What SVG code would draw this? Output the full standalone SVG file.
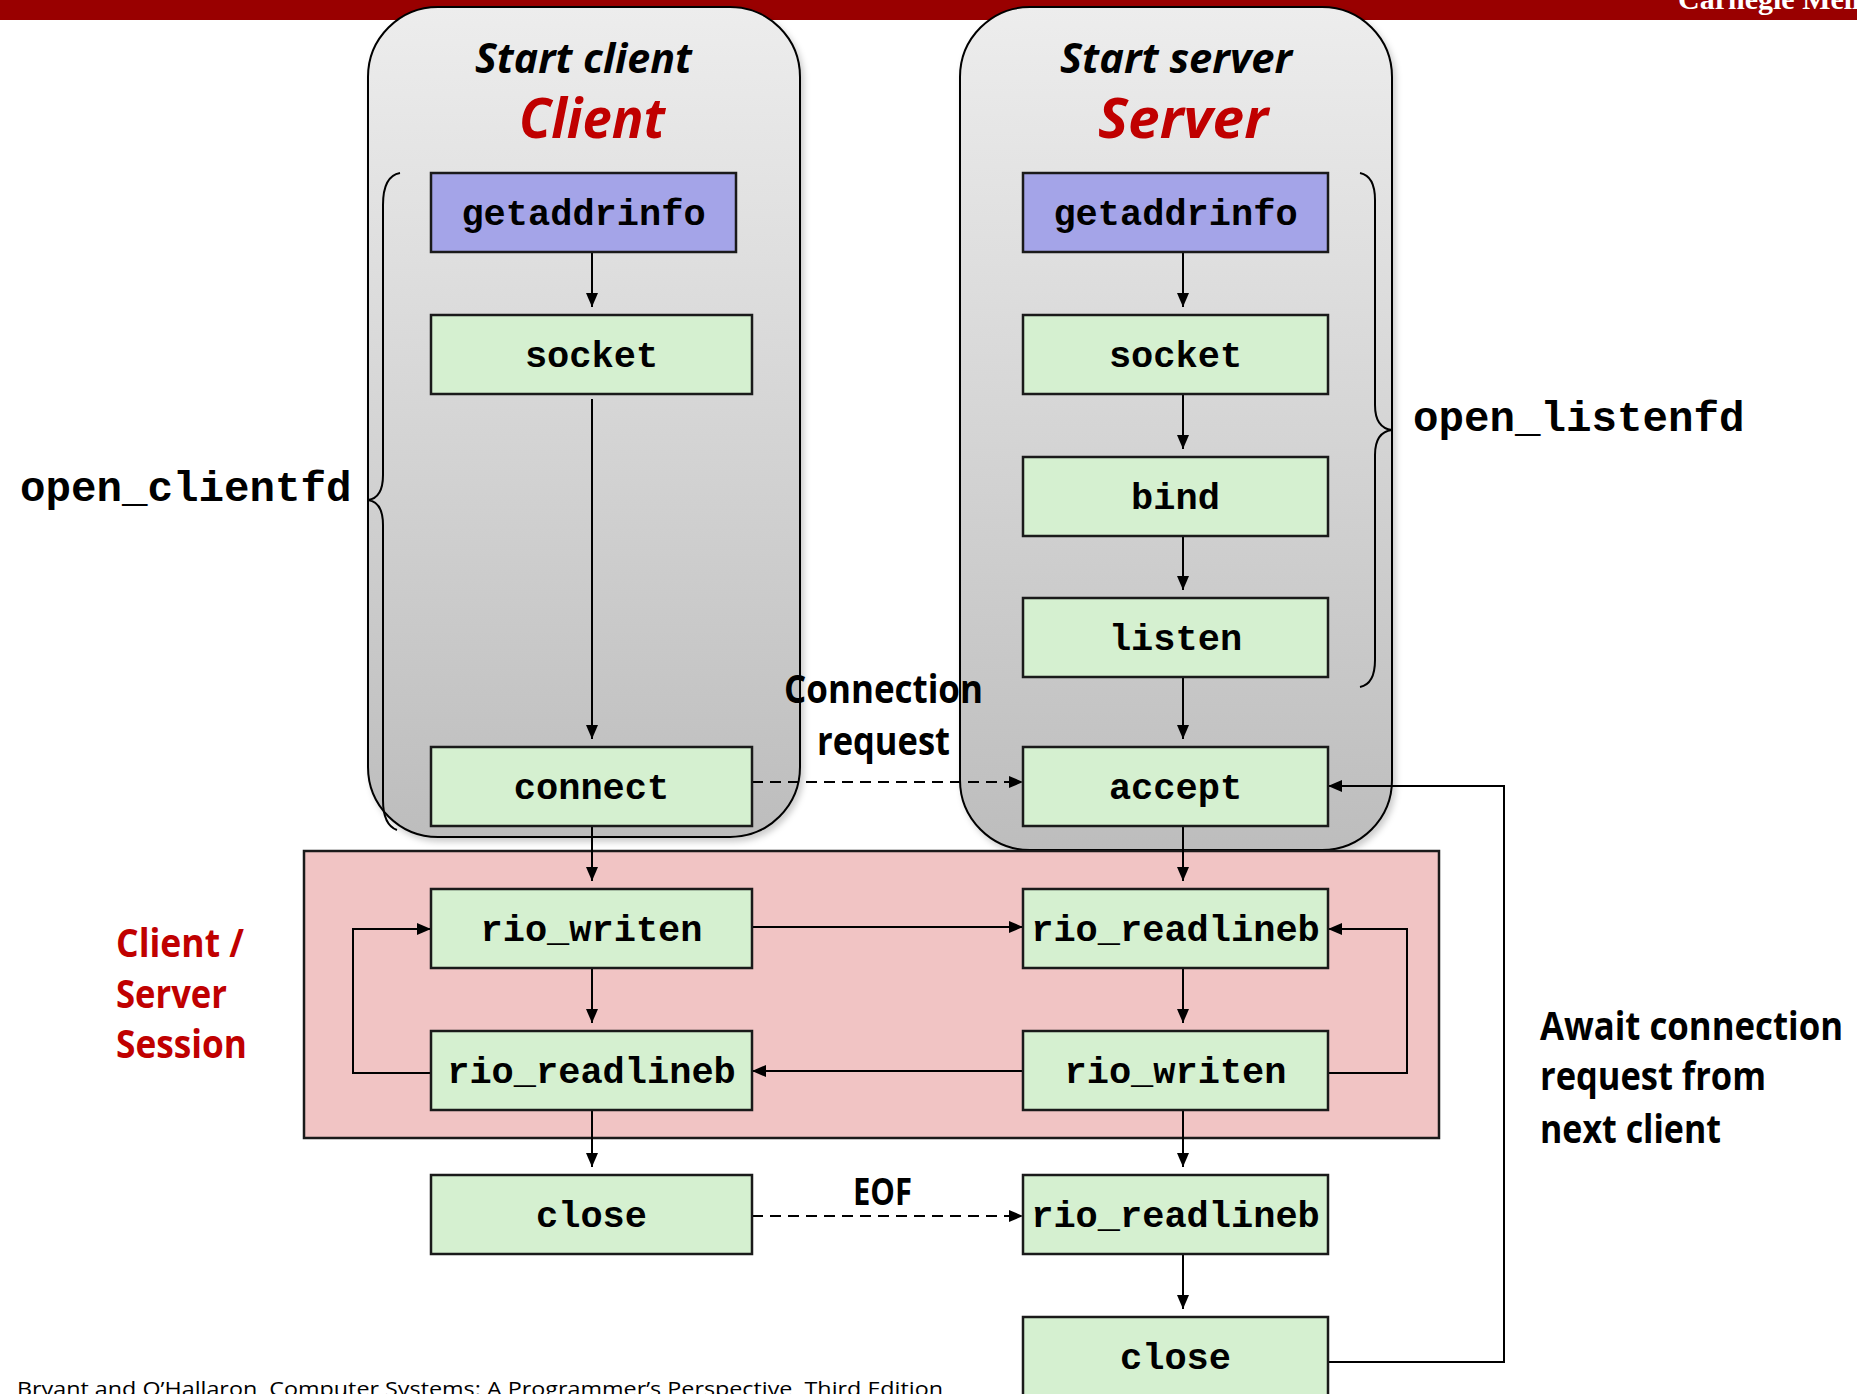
<svg xmlns="http://www.w3.org/2000/svg" width="1857" height="1394" viewBox="0 0 1857 1394">
<defs>
<linearGradient id="panelGrad" x1="0" y1="0" x2="0" y2="1">
<stop offset="0" stop-color="#ededed"/>
<stop offset="1" stop-color="#bdbdbd"/>
</linearGradient>
<filter id="shadow" x="-10%" y="-10%" width="120%" height="120%">
<feDropShadow dx="3" dy="4" stdDeviation="3" flood-color="#000" flood-opacity="0.2"/>
</filter>
<marker id="ah" viewBox="0 0 14 12" refX="14" refY="6" markerWidth="14" markerHeight="12" markerUnits="userSpaceOnUse" orient="auto">
<path d="M0,0 L14,6 L0,12 z" fill="#000"/>
</marker>
<style>
.panel{fill:url(#panelGrad);stroke:#000;stroke-width:2;filter:url(#shadow)}
.box{fill:#d5f0d0;stroke:#1a1a1a;stroke-width:2.5}
.blue{fill:#a4a4e8;stroke:#1a1a1a;stroke-width:2.5}
.mono{font-family:"Liberation Mono","Courier New",monospace;font-weight:bold;fill:#000}
.lbl{font-family:"Liberation Mono","Courier New",monospace;font-weight:bold;font-size:37px;text-anchor:middle;fill:#000}
.sans{font-family:"Open Sans","Noto Sans","Liberation Sans",sans-serif;font-weight:bold;fill:#000}
.red{fill:#c00000}
.title{font-style:italic}
.conn{fill:none;stroke:#000;stroke-width:2}
.arrow{marker-end:url(#ah)}
.dash{stroke-dasharray:11 7}
.brace{fill:none;stroke:#000;stroke-width:2}
</style>
</defs>
<rect id="topbar" x="0" y="0" width="1857" height="20" fill="#990000"/>
<text x="1678" y="9" font-family="Liberation Serif,'Times New Roman',serif" font-weight="bold" font-size="30" fill="#ffffff">Carnegie Mellon</text>

<g id="client-panel">
<rect class="panel" x="368" y="7" width="432" height="830" rx="70" ry="70"/>
<text class="sans title" x="475" y="73" font-size="41" textLength="217" lengthAdjust="spacingAndGlyphs">Start client</text>
<text class="sans title red" x="519" y="138" font-size="56" textLength="146" lengthAdjust="spacingAndGlyphs">Client</text>
</g>
<g id="server-panel">
<rect class="panel" x="960" y="7" width="432" height="843" rx="70" ry="70"/>
<text class="sans title" x="1060" y="73" font-size="41" textLength="232" lengthAdjust="spacingAndGlyphs">Start server</text>
<text class="sans title red" x="1098" y="138" font-size="56" textLength="170" lengthAdjust="spacingAndGlyphs">Server</text>
</g>

<g id="session">
<rect x="304" y="851" width="1135" height="287" fill="#f1c4c4" stroke="#1a1a1a" stroke-width="2.5"/>
</g>

<g id="braces">
<path class="brace" d="M400,173 Q383,176 383,205 L383,475 Q383,498 368,500 Q383,502 383,525 L383,800 Q383,825 397,830"/>
<path class="brace" d="M1360,173 Q1375,176 1375,200 L1375,405 Q1375,428 1392,430 Q1375,432 1375,455 L1375,660 Q1375,684 1360,687"/>
</g>

<g id="connectors">
<path class="conn arrow" d="M592,253 V307"/>
<path class="conn arrow" d="M592,399 V739"/>
<path class="conn arrow" d="M592,826 V881"/>
<path class="conn arrow" d="M592,968 V1023"/>
<path class="conn arrow" d="M592,1110 V1167"/>
<path class="conn arrow" d="M1183,253 V307"/>
<path class="conn arrow" d="M1183,395 V449"/>
<path class="conn arrow" d="M1183,537 V590"/>
<path class="conn arrow" d="M1183,678 V739"/>
<path class="conn arrow" d="M1183,826 V881"/>
<path class="conn arrow" d="M1183,968 V1023"/>
<path class="conn arrow" d="M1183,1110 V1167"/>
<path class="conn arrow" d="M1183,1254 V1309"/>
<path class="conn arrow" d="M431,1073 H353 V929 H431"/>
<path class="conn arrow" d="M752,927 H1023"/>
<path class="conn arrow" d="M1023,1071 H752"/>
<path class="conn arrow" d="M1328,1073 H1407 V929 H1328"/>
<path class="conn arrow dash" d="M752,782 H1023"/>
<path class="conn arrow dash" d="M752,1216 H1023"/>
<path class="conn arrow" d="M1328,1362 H1504 V786 H1328"/>
</g>

<g id="c-getaddrinfo"><rect class="blue" x="431" y="173" width="305" height="79"/><text class="lbl" x="583.5" y="225">getaddrinfo</text></g>
<g id="c-socket"><rect class="box" x="431" y="315" width="321" height="79"/><text class="lbl" x="591.5" y="367">socket</text></g>
<g id="c-connect"><rect class="box" x="431" y="747" width="321" height="79"/><text class="lbl" x="591.5" y="799">connect</text></g>
<g id="c-rio-writen"><rect class="box" x="431" y="889" width="321" height="79"/><text class="lbl" x="591.5" y="941">rio_writen</text></g>
<g id="c-rio-readlineb"><rect class="box" x="431" y="1031" width="321" height="79"/><text class="lbl" x="591.5" y="1083">rio_readlineb</text></g>
<g id="c-close"><rect class="box" x="431" y="1175" width="321" height="79"/><text class="lbl" x="591.5" y="1227">close</text></g>

<g id="s-getaddrinfo"><rect class="blue" x="1023" y="173" width="305" height="79"/><text class="lbl" x="1175.5" y="225">getaddrinfo</text></g>
<g id="s-socket"><rect class="box" x="1023" y="315" width="305" height="79"/><text class="lbl" x="1175.5" y="367">socket</text></g>
<g id="s-bind"><rect class="box" x="1023" y="457" width="305" height="79"/><text class="lbl" x="1175.5" y="509">bind</text></g>
<g id="s-listen"><rect class="box" x="1023" y="598" width="305" height="79"/><text class="lbl" x="1175.5" y="650">listen</text></g>
<g id="s-accept"><rect class="box" x="1023" y="747" width="305" height="79"/><text class="lbl" x="1175.5" y="799">accept</text></g>
<g id="s-rio-readlineb"><rect class="box" x="1023" y="889" width="305" height="79"/><text class="lbl" x="1175.5" y="941">rio_readlineb</text></g>
<g id="s-rio-writen"><rect class="box" x="1023" y="1031" width="305" height="79"/><text class="lbl" x="1175.5" y="1083">rio_writen</text></g>
<g id="s-rio-readlineb2"><rect class="box" x="1023" y="1175" width="305" height="79"/><text class="lbl" x="1175.5" y="1227">rio_readlineb</text></g>
<g id="s-close"><rect class="box" x="1023" y="1317" width="305" height="90"/><text class="lbl" x="1175.5" y="1369">close</text></g>

<g id="labels">
<text class="mono" x="20" y="501" font-size="42.5">open_clientfd</text>
<text class="mono" x="1413" y="431" font-size="42.5">open_listenfd</text>
<text class="sans" x="784" y="703" font-size="39" textLength="199" lengthAdjust="spacingAndGlyphs">Connection</text>
<text class="sans" x="817" y="755" font-size="39" textLength="133" lengthAdjust="spacingAndGlyphs">request</text>
<text class="sans" x="853" y="1205" font-size="37" textLength="59" lengthAdjust="spacingAndGlyphs">EOF</text>
<text class="sans red" x="116" y="957" font-size="39" textLength="128" lengthAdjust="spacingAndGlyphs">Client /</text>
<text class="sans red" x="116" y="1008" font-size="39" textLength="111" lengthAdjust="spacingAndGlyphs">Server</text>
<text class="sans red" x="116" y="1058" font-size="39" textLength="131" lengthAdjust="spacingAndGlyphs">Session</text>
<text class="sans" x="1540" y="1040" font-size="39" textLength="303" lengthAdjust="spacingAndGlyphs">Await connection</text>
<text class="sans" x="1540" y="1090" font-size="39" textLength="226" lengthAdjust="spacingAndGlyphs">request from</text>
<text class="sans" x="1540" y="1143" font-size="39" textLength="181" lengthAdjust="spacingAndGlyphs">next client</text>
<text x="17" y="1396" font-family="Open Sans,Noto Sans,Liberation Sans,sans-serif" font-size="20" fill="#000" textLength="926" lengthAdjust="spacingAndGlyphs">Bryant and O’Hallaron, Computer Systems: A Programmer’s Perspective, Third Edition</text>
</g>
</svg>
